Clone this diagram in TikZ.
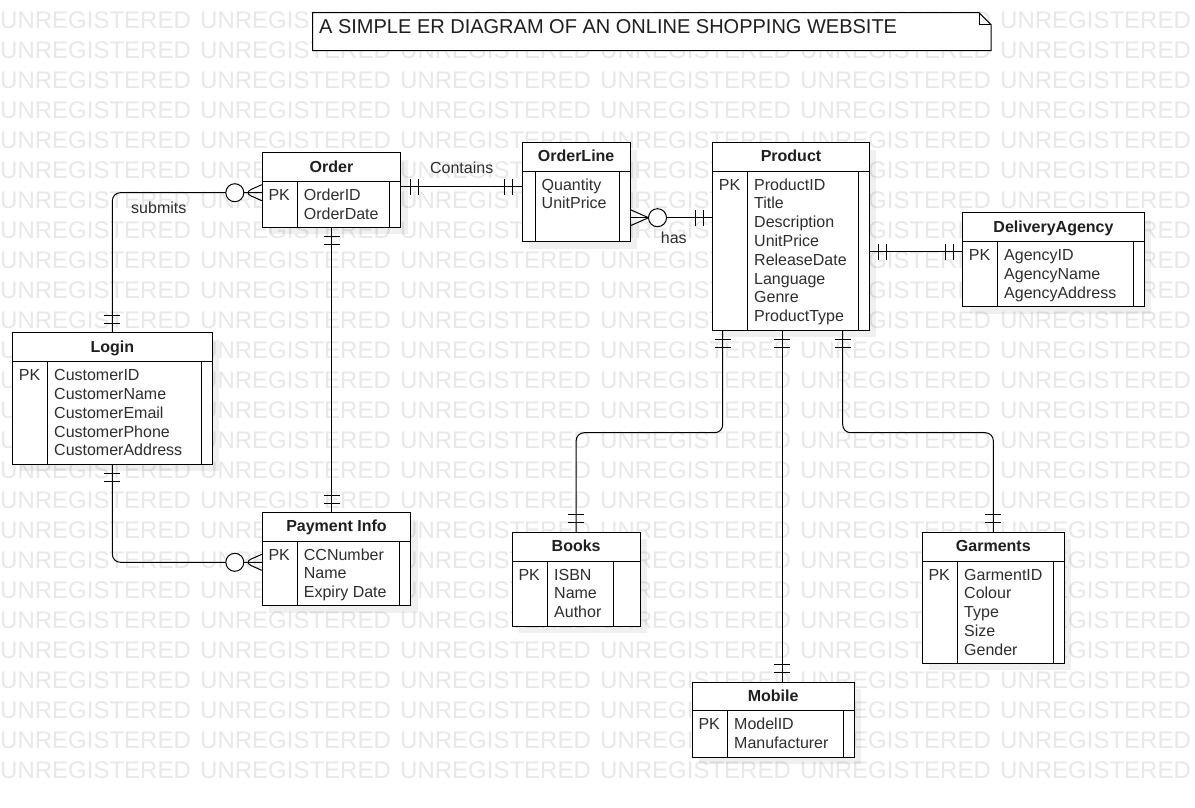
\documentclass[tikz,border=0pt]{standalone}
\usepackage{fontspec}
\setmainfont{Liberation Sans}
\usetikzlibrary{decorations.markings,fit}

\tikzset{
  ln/.style={line width=1pt, draw=black},
  wm/.style={anchor=base west, inner sep=0pt, font=\fontsize{24}{24}\selectfont, text=black!9},
  attr/.style={anchor=base west, inner sep=0pt, font=\fontsize{16}{18.8}\selectfont, text=black!82},
  etitle/.style={anchor=base, inner sep=0pt, font=\fontsize{16}{18.8}\selectfont\bfseries, text=black!88},
  lbl/.style={anchor=base, inner sep=0pt, font=\fontsize{16}{18.8}\selectfont, text=black!82},
  onestart/.style={postaction={decorate,decoration={markings,
    mark=at position 9pt with {\draw[line width=1pt] (0,-8pt)--(0,8pt);},
    mark=at position 17pt with {\draw[line width=1pt] (0,-8pt)--(0,8pt);}}}},
  oneend/.style={postaction={decorate,decoration={markings,
    mark=at position -9pt with {\draw[line width=1pt] (0,-8pt)--(0,8pt);},
    mark=at position -17pt with {\draw[line width=1pt] (0,-8pt)--(0,8pt);}}}},
  manystart/.style={postaction={decorate,decoration={markings,
    mark=at position 18pt with {\draw[line width=1pt] (-18pt,8pt)--(0,0)--(-18pt,-8pt);},
    mark=at position 27pt with {\draw[line width=1pt,fill=white] (0,0) circle (9pt);}}}},
  manyend/.style={postaction={decorate,decoration={markings,
    mark=at position -18pt with {\draw[line width=1pt] (18pt,8pt)--(0,0)--(18pt,-8pt);},
    mark=at position -27pt with {\draw[line width=1pt,fill=white] (0,0) circle (9pt);}}}},
}

% #1 name #2 left #3 top #4 right #5 bottom #6 header bottom #7 left divider #8 right divider #9 title
\newcommand{\erent}[9]{%
  \fill[black, fill opacity=0.06] (#2+7,#3+7) rectangle (#4+7,#5+7);
  \node[fit={(#2,#3) (#4,#5)}, inner sep=0pt, draw, line width=1pt, fill=white] (#1) {};
  \draw[line width=1pt] (#2,#6) -- (#4,#6);
  \draw[line width=1pt] (#7,#6) -- (#7,#5);
  \draw[line width=1pt] (#8,#6) -- (#8,#5);
  \node[etitle] (#1-t) at ({(#2+#4)/2},{#6-9.5}) {#9};
}
% #1 name #2 x #3 first baseline #4 list
\newcommand{\erattrs}[4]{%
  \foreach \t [count=\i from 0] in {#4} {\node[attr] (#1-a\i) at (#2,{#3+18.8*\i}) {\t};}
}
\newcommand{\erpk}[3]{\node[attr] (#1-pk) at (#2,#3) {PK};}

\begin{document}
\begin{tikzpicture}[x=1pt,y=-1pt]
\useasboundingbox (0,0) rectangle (1195,807);
\fill[white] (0,0) rectangle (1195,807);

% watermark
\foreach \r in {0,...,25} {
  \foreach \c in {0,...,5} {
    \node[wm] (wm-\r-\c) at (200*\c,28+30*\r) {UNREGISTERED};
  }
}

% title note
\draw[line width=1pt, fill=white] (312.7,12.7) -- (979,12.7) -- (991,24.7) -- (991,50.7) -- (312.7,50.7) -- cycle;
\draw[line width=1pt] (979,12.7) -- (979,24.7) -- (991,24.7);
\node[anchor=base west, inner sep=0pt, font=\fontsize{20}{24}\selectfont, text=black!88] (title) at (319,33.3) {A SIMPLE ER DIAGRAM OF AN ONLINE SHOPPING WEBSITE};

% entities
\erent{order}{262.3}{152.7}{400.7}{227.3}{181.7}{297.7}{389.3}{Order}
\erpk{order}{268.3}{200.7}
\erattrs{order}{303.7}{200.7}{OrderID,OrderDate}

\erent{orderline}{522.3}{142.7}{630}{241.7}{171}{535}{619}{OrderLine}
\erattrs{orderline}{541.5}{190}{Quantity,UnitPrice}

\erent{product}{712.7}{142.7}{869.3}{330}{171}{747.7}{858.3}{Product}
\erpk{product}{718.7}{190}
\erattrs{product}{754}{190}{ProductID,Title,Description,UnitPrice,ReleaseDate,Language,Genre,ProductType}

\erent{agency}{962.7}{212.7}{1144.3}{306.7}{241.7}{997.7}{1133.7}{DeliveryAgency}
\erpk{agency}{968.7}{260.7}
\erattrs{agency}{1004}{260.7}{AgencyID,AgencyName,AgencyAddress}

\erent{login}{12.7}{332.7}{212}{464}{361.7}{47.7}{201.3}{Login}
\erpk{login}{18.7}{380.7}
\erattrs{login}{54}{380.7}{CustomerID,CustomerName,CustomerEmail,CustomerPhone,CustomerAddress}

\erent{payment}{262.3}{512.7}{410.7}{605.7}{541}{297.7}{399.7}{Payment Info}
\erpk{payment}{268.3}{560}
\erattrs{payment}{303.7}{560}{CCNumber,Name,Expiry Date}

\erent{books}{512.3}{532.3}{640}{626}{561}{547.7}{613.3}{Books}
\erpk{books}{518.3}{580}
\erattrs{books}{554}{580}{ISBN,Name,Author}

\erent{mobile}{692.3}{682.3}{854}{757.3}{710.7}{727.7}{843.3}{Mobile}
\erpk{mobile}{698.3}{729.7}
\erattrs{mobile}{734}{729.7}{ModelID,Manufacturer}

\erent{garments}{922.3}{532.3}{1064.3}{663.3}{561}{957.7}{1053.3}{Garments}
\erpk{garments}{928.3}{580}
\erattrs{garments}{964}{580}{GarmentID,Colour,Type,Size,Gender}

% connectors
\draw[ln, onestart, oneend] (order.east |- 0,186.7) -- (orderline.west |- 0,186.7);
\node[lbl] (lcontains) at (461.7,173.3) {Contains};

\draw[ln, rounded corners=8pt, onestart, manyend] (login.north) -- (login.north |- 0,192.7) -- (order.west |- 0,192.7);
\node[lbl] (lsubmits) at (158.8,213.3) {submits};

\draw[ln, onestart, oneend] (order.south) -- (order.south |- payment.north);

\draw[ln, rounded corners=8pt, onestart, manyend] (login.south) -- (login.south |- 0,562.3) -- (payment.west |- 0,562.3);

\draw[ln, manystart, oneend] (orderline.east |- 0,217.7) -- (product.west |- 0,217.7);
\node[lbl] (lhas) at (673.8,243.5) {has};

\draw[ln, onestart, oneend] (product.east |- 0,251.7) -- (agency.west |- 0,251.7);

\draw[ln, rounded corners=8pt, onestart, oneend] (product.south -| 722.7,0) -- (722.7,432.7) -- (books.north |- 0,432.7) -- (books.north);
\draw[ln, onestart, oneend] (product.south -| 782.3,0) -- (mobile.north -| 782.3,0);
\draw[ln, rounded corners=8pt, onestart, oneend] (product.south -| 842.7,0) -- (842.7,432.7) -- (garments.north |- 0,432.7) -- (garments.north);
\end{tikzpicture}
\end{document}
